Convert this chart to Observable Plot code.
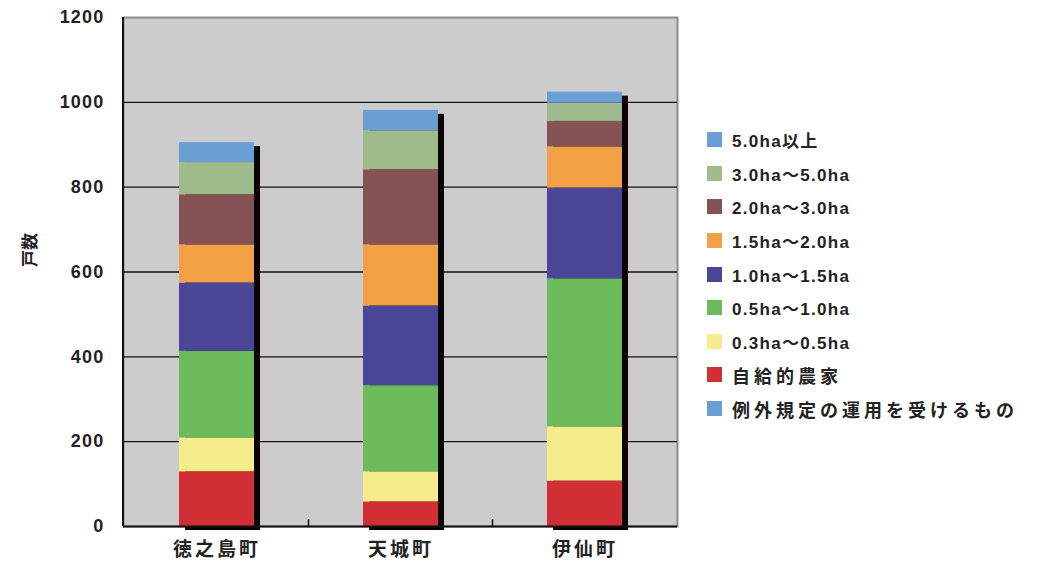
<!DOCTYPE html>
<html>
<head>
<meta charset="utf-8">
<script src="https://cdn.jsdelivr.net/npm/d3@7"></script>
<script src="https://cdn.jsdelivr.net/npm/@observablehq/plot@0.6"></script>
<style>
  body { margin: 0; background: #fff; }
  #wrap { position: relative; width: 1039px; height: 571px; font-family: "Liberation Sans", "Noto Sans CJK JP", sans-serif; font-weight: bold; }
  #legend { position: absolute; left: 707px; top: 123px; }
  .row { display: flex; align-items: center; height: 33.6px; }
  .sw { width: 15px; height: 15px; margin-right: 10px; flex: none; }
  .lab { color: #222; white-space: nowrap; }
  g[aria-label="y-axis tick label"] text { letter-spacing: 1.2px; font-size: 18px; }
  g[aria-label="x-axis tick label"] text { letter-spacing: 3px; }
</style>
</head>
<body>
<div id="wrap"><div id="legend"></div></div>
<script>
// --- data ---
const towns = ["徳之島町", "天城町", "伊仙町"];
const classes = ["例外規定の運用を受けるもの", "自給的農家", "0.3ha〜0.5ha", "0.5ha〜1.0ha", "1.0ha〜1.5ha", "1.5ha〜2.0ha", "2.0ha〜3.0ha", "3.0ha〜5.0ha", "5.0ha以上"];
const colors = ["#6a9fd6", "#d12f33", "#f5ec8c", "#6bbb5a", "#4b4698", "#f2a245", "#855356", "#9fbb8c", "#6a9fd6"];
const v_exception = [0, 0, 0];
const v_selfSupply = [129, 58, 107];
const v_03_05 = [80, 71, 128];
const v_05_10 = [204, 203, 349];
const v_10_15 = [161, 188, 214];
const v_15_20 = [90, 144, 97];
const v_20_30 = [118, 177, 60];
const v_30_50 = [76, 92, 43];
const v_50up = [47, 48, 26];
const legendOrder = ["5.0ha以上", "3.0ha〜5.0ha", "2.0ha〜3.0ha", "1.5ha〜2.0ha", "1.0ha〜1.5ha", "0.5ha〜1.0ha", "0.3ha〜0.5ha", "自給的農家", "例外規定の運用を受けるもの"];
const yTicks = [0, 200, 400, 600, 800, 1000, 1200];
const yLabel = "戸数";

const series = [v_exception, v_selfSupply, v_03_05, v_05_10, v_10_15, v_15_20, v_20_30, v_30_50, v_50up];
const rows = [];
classes.forEach((c, i) => towns.forEach((t, j) => rows.push({town: t, cls: c, value: series[i][j]})));
const totals = towns.map((t, j) => ({town: t, total: d3.sum(series, s => s[j])}));

const font = "\"Liberation Sans\", \"Noto Sans CJK JP\", sans-serif";

const plot = Plot.plot({
  width: 1039,
  height: 571,
  marginLeft: 123,
  marginRight: 362,
  marginTop: 17,
  marginBottom: 45,
  style: {fontFamily: font, fontWeight: "bold", background: "transparent", overflow: "visible"},
  x: {domain: towns, paddingInner: 0.594, paddingOuter: 0.297, label: null},
  y: {domain: [0, 1200], label: null},
  color: {domain: classes, range: colors},
  marks: [
    Plot.frame({fill: "#cccccc", stroke: "#8c8c8c", strokeWidth: 2}),
    Plot.ruleY(yTicks.filter(v => v > 0 && v < 1200), {stroke: "#111", strokeWidth: 1.3}),
    Plot.barY(totals, {x: "town", y: "total", fill: "#0a0505", dx: 6, dy: 4}),
    Plot.barY(rows, {x: "town", y: "value", fill: "cls"}),
    Plot.ruleY([0], {stroke: "#111", strokeWidth: 2}),
    (index, scales, values, dims) => {
      const g = d3.create("svg:g");
      g.append("line")
        .attr("x1", dims.marginLeft).attr("x2", dims.marginLeft)
        .attr("y1", dims.marginTop).attr("y2", dims.height - dims.marginBottom)
        .attr("stroke", "#111").attr("stroke-width", 2);
      const x = scales.x, y = scales.y;
      const step = x.step ? x.step() : (x.bandwidth() / (1 - 0.594));
      towns.slice(0, -1).forEach(t => {
        const px = x(t) + x.bandwidth() / 2 + step / 2;
        g.append("line")
          .attr("x1", px).attr("x2", px)
          .attr("y1", y(0)).attr("y2", y(0) - 7)
          .attr("stroke", "#111").attr("stroke-width", 1.5);
      });
      return g.node();
    },
    Plot.axisY({ticks: yTicks, tickFormat: d => String(d), tickSize: 0, tickPadding: 19, fontSize: 18, fill: "#222"}),
    Plot.axisX({tickSize: 0, tickPadding: 16, fontSize: 19, fill: "#222"}),
    Plot.text([yLabel], {frameAnchor: "left", textAnchor: "middle", dx: -93, dy: -22, rotate: -90, fontSize: 17, fontWeight: "bold", fill: "#222"})
  ]
});
plot.style.position = "absolute";
plot.style.left = "0";
plot.style.top = "0";
document.getElementById("wrap").prepend(plot);

const legend = d3.select("#legend");
legendOrder.forEach(c => {
  const r = legend.append("div").attr("class", "row");
  r.append("div").attr("class", "sw").style("background", colors[classes.indexOf(c)]);
  const isHa = c.includes("ha");
  r.append("div").attr("class", "lab")
    .style("font-size", isHa ? "17px" : "18px")
    .style("letter-spacing", isHa ? "1.3px" : "4px")
    .text(c);
});
</script>
</body>
</html>
